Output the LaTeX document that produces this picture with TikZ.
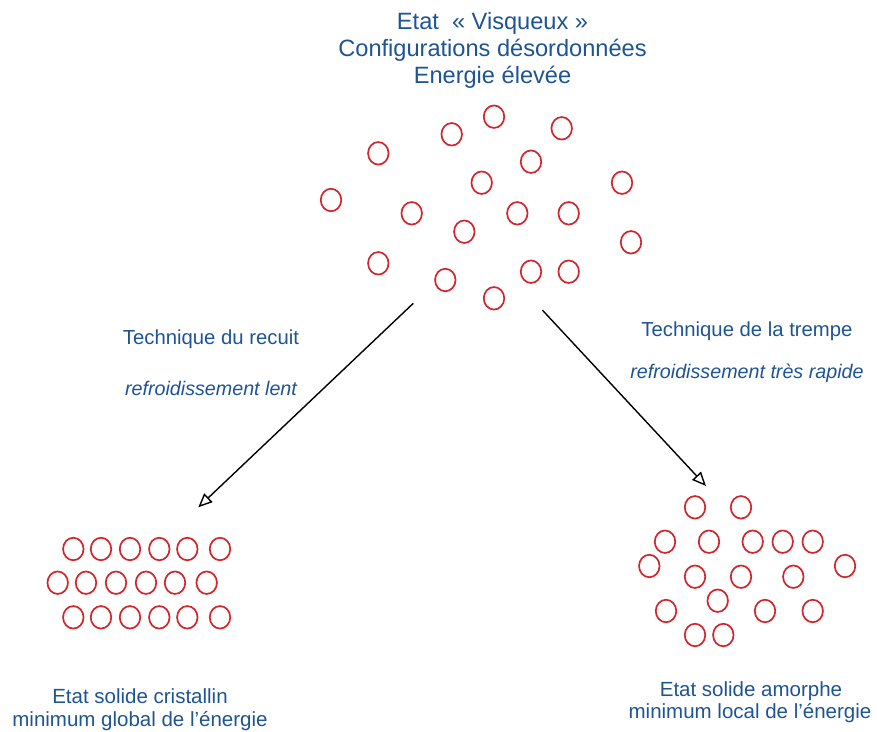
\documentclass[tikz,border=0pt]{standalone}
\usepackage{fontspec}
\setmainfont{Liberation Sans}
\usetikzlibrary{arrows.meta,shapes.geometric}
\definecolor{txtblue}{RGB}{30,84,148}
\definecolor{atomred}{RGB}{208,38,44}
\begin{document}
\begin{tikzpicture}[x=1pt,y=-1pt,
  atom/.style={draw=atomred,line width=1.7pt,ellipse,minimum width=20.5pt,minimum height=22.5pt,inner sep=0pt},
  titletxt/.style={text=txtblue,font=\fontsize{23.6}{27}\selectfont,anchor=base,inner sep=0pt},
  techtxt/.style={text=txtblue,font=\fontsize{20.3}{23}\selectfont,anchor=base,inner sep=0pt},
  slowtxt/.style={text=txtblue,font=\fontsize{19.7}{23}\selectfont\itshape,anchor=base,inner sep=0pt},
  statetxt/.style={text=txtblue,font=\fontsize{20.5}{24}\selectfont,anchor=base,inner sep=0pt},
  cool/.style={draw=black,line width=1.4pt,-{Triangle[open,length=14pt,width=12pt,line width=1.4pt]}}]
\useasboundingbox (0,0) rectangle (877,731);
% title
\node[titletxt] (t1) at (492.5,29) {Etat \ « Visqueux »};
\node[titletxt] (t2) at (492.5,56) {Configurations désordonnées};
\node[titletxt] (t3) at (492.5,83) {Energie élevée};
% viscous state atoms
\foreach \px/\py [count=\i] in {494/116.7, 451.7/134.3, 561.7/128.3, 378.3/153.3, 531/161.7,
  481.7/182.7, 622/182.7, 331/200, 411.7/213.3, 517.3/213.3, 568.7/213.3, 464.3/231.7,
  631/242.3, 378.3/263.3, 445.3/280, 531/271.7, 568.7/271.7, 494/298.3}
  \node[atom] (v\i) at (\px,\py) {};
% crystalline atoms
\foreach \px [count=\i] in {73.3,101,130,159.3,187.3,220}{
  \node[atom] (ca\i) at (\px,549) {};
  \node[atom] (cc\i) at (\px,617.3) {};
}
\foreach \px [count=\i] in {57.7,86,116,146,175,206.7}
  \node[atom] (cb\i) at (\px,582.7) {};
% amorphous atoms
\foreach \px/\py [count=\i] in {695/507.3, 741/507.3, 665/541.7, 709/541.7, 752.7/541.7,
  782.7/541.7, 812.7/541.7, 649.3/566, 845/566, 695/576.7, 741/576.7, 793.3/576.7,
  717.7/600.7, 666/611, 765/611, 812.7/611, 695/635, 723.3/635}
  \node[atom] (a\i) at (\px,\py) {};
% arrows
\coordinate (ls) at (413.3,303.3);
\coordinate (le) at (198.3,507.3);
\coordinate (rs) at (542.3,310);
\coordinate (re) at (706,486);
\draw[cool] (ls) -- (le);
\draw[cool] (rs) -- (re);
% technique labels
\node[techtxt] (tr) at (211,344) {Technique du recuit};
\node[slowtxt] (lr) at (211,395) {refroidissement lent};
\node[techtxt] (tt) at (747,336) {Technique de la trempe};
\node[slowtxt] (lt) at (747,378.3) {refroidissement très rapide};
% state labels
\node[statetxt] (s1) at (140,703.3) {Etat solide cristallin};
\node[statetxt] (s2) at (140,726) {minimum global de l’énergie};
\node[statetxt] (s3) at (751,696) {Etat solide amorphe};
\node[statetxt] (s4) at (750,718.3) {minimum local de l’énergie};
\end{tikzpicture}
\end{document}
